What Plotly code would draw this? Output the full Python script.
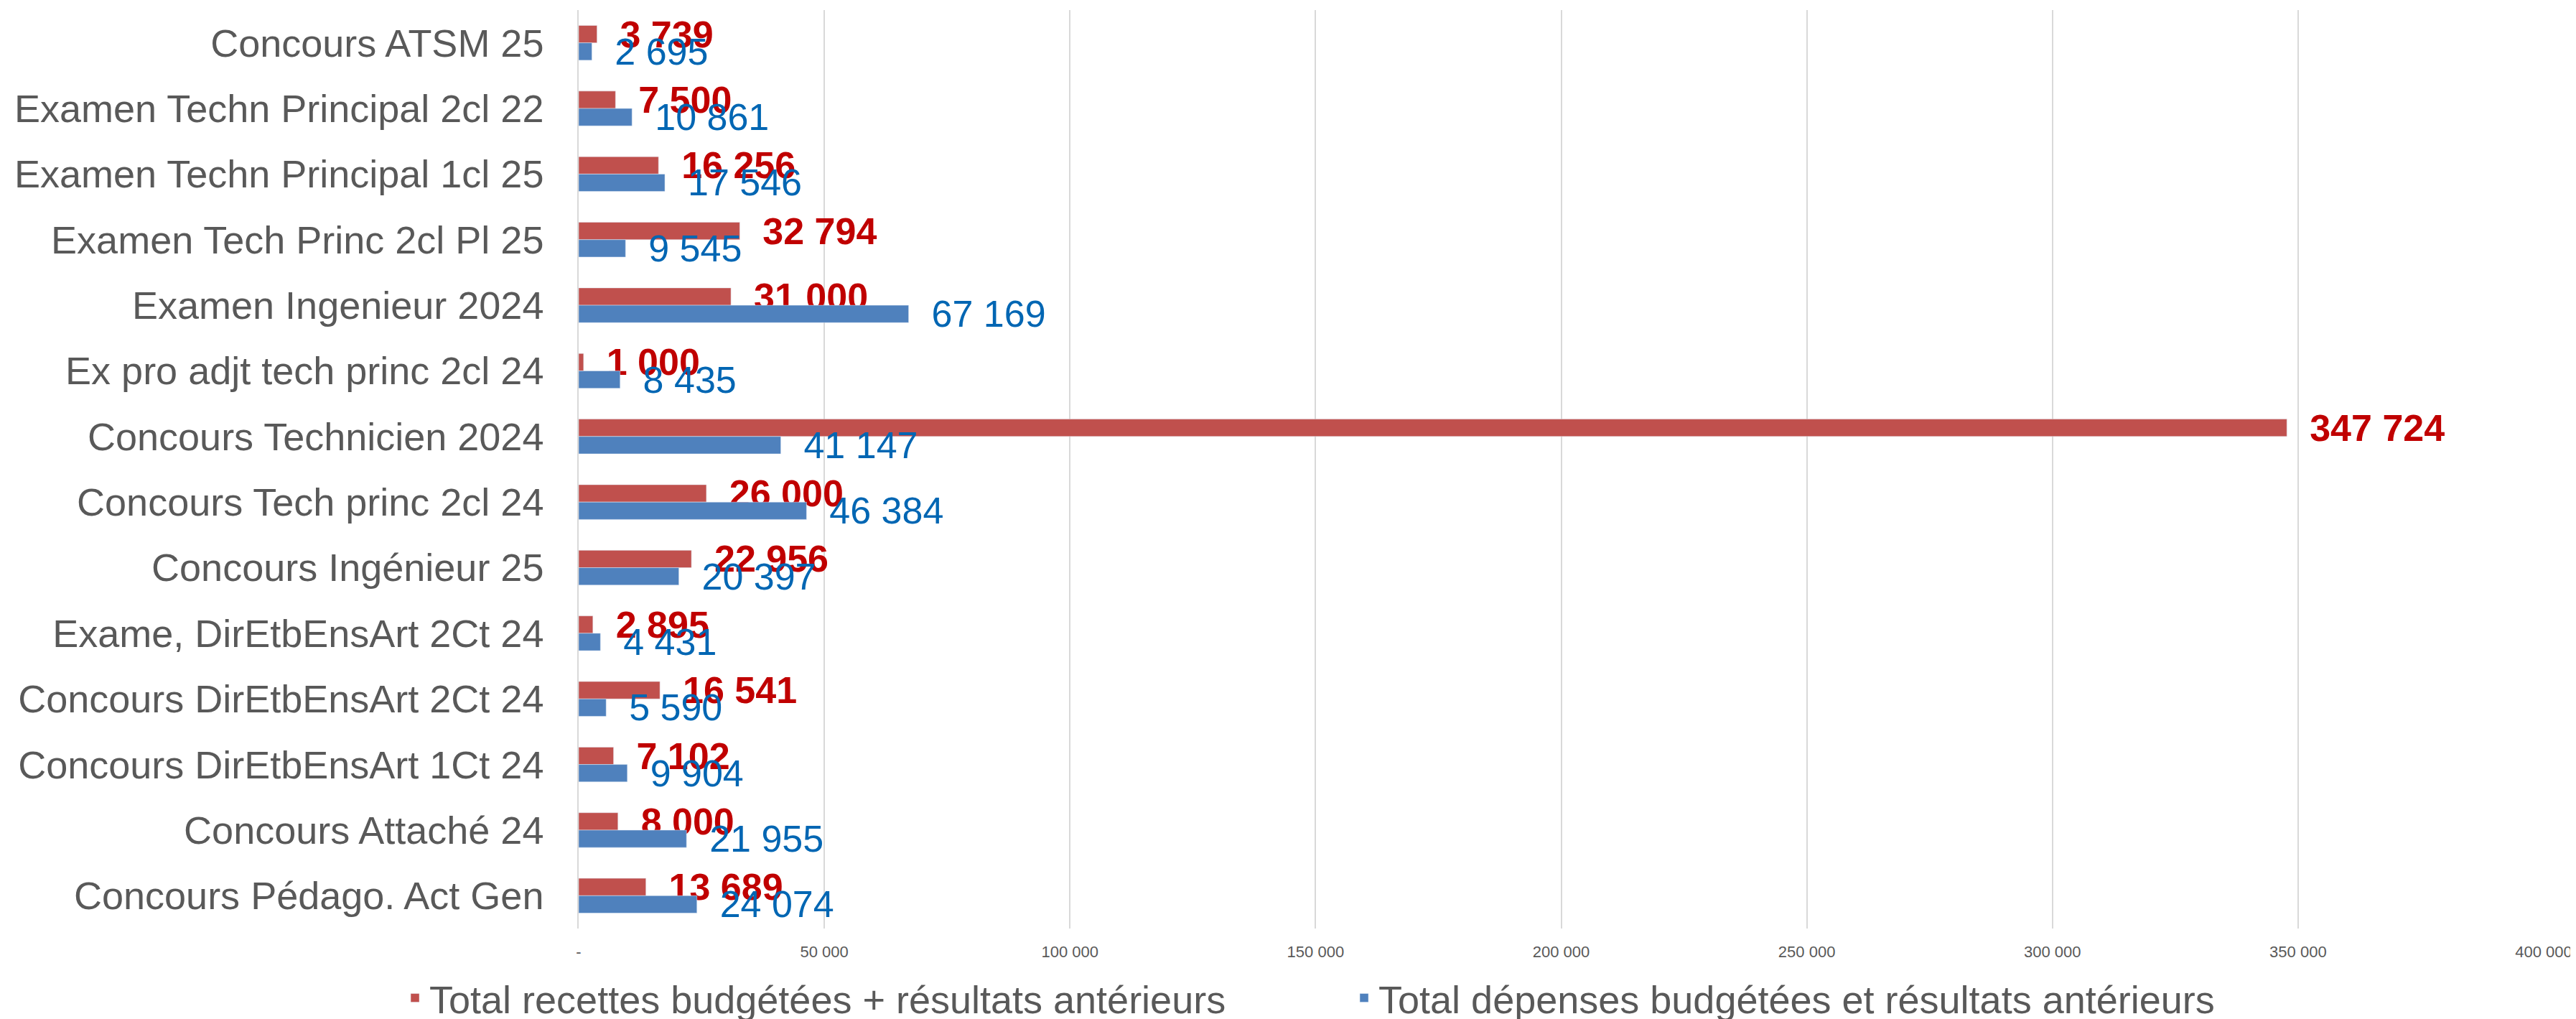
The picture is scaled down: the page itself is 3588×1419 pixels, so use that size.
"""Recettes vs dépenses par concours / examen"""

import plotly.graph_objects as go

categories = [
    "Concours ATSM 25",
    "Examen Techn Principal 2cl 22",
    "Examen Techn Principal 1cl 25",
    "Examen Tech Princ 2cl Pl 25",
    "Examen Ingenieur 2024",
    "Ex pro adjt tech princ 2cl 24",
    "Concours Technicien 2024",
    "Concours Tech princ 2cl 24",
    "Concours Ingénieur 25",
    "Exame, DirEtbEnsArt 2Ct 24",
    "Concours DirEtbEnsArt 2Ct 24",
    "Concours DirEtbEnsArt 1Ct 24",
    "Concours Attaché 24",
    "Concours Pédago. Act Gen",
]

recettes = [3739, 7500, 16256, 32794, 31000, 1000, 347724,
            26000, 22956, 2895, 16541, 7102, 8000, 13689]
depenses = [2695, 10861, 17546, 9545, 67169, 8435, 41147,
            46384, 20397, 4431, 5590, 9904, 21955, 24074]

tick_vals = [0, 50000, 100000, 150000, 200000, 250000, 300000, 350000, 400000]
tick_text = ["-", "50 000", "100 000", "150 000", "200 000",
             "250 000", "300 000", "350 000", "400 000"]

FONT = "Liberation Sans, Arial, sans-serif"
GREY = "#595959"

fig = go.Figure()
fig.add_trace(go.Bar(
    y=categories,
    x=recettes,
    orientation="h",
    name="Total recettes budgétées + résultats antérieurs",
    marker=dict(color="#C0504D"),
    texttemplate="  %{x:,.0f}",
    textposition="outside",
    textangle=0,
    constraintext="none",
    cliponaxis=False,
    textfont=dict(family=FONT, size=52, color="#C00000", weight="bold"),
))
fig.add_trace(go.Bar(
    y=categories,
    x=depenses,
    orientation="h",
    name="Total dépenses budgétées et résultats antérieurs",
    marker=dict(color="#4F81BD"),
    texttemplate="  %{x:,.0f}",
    textposition="outside",
    textangle=0,
    constraintext="none",
    cliponaxis=False,
    textfont=dict(family=FONT, size=52, color="#0066B3"),
))

# la page décale le graphique de 8 px (marge du body)
fig.update_layout(
    width=3588,
    height=1419,
    margin=dict(l=798, r=53, t=6, b=134, autoexpand=False),
    plot_bgcolor="white",
    paper_bgcolor="white",
    font=dict(family=FONT, color=GREY),
    separators=", ",
    barmode="group",
    bargap=0.47,
    bargroupgap=0,
    showlegend=True,
    legend=dict(
        orientation="h",
        x=-0.0906,
        xanchor="left",
        y=-0.0758,
        yanchor="middle",
        font=dict(size=54, color=GREY),
        entrywidth=1277,
        traceorder="normal",
    ),
    xaxis=dict(
        range=[0, 400000],
        tickvals=tick_vals,
        ticktext=tick_text,
        showgrid=True,
        gridcolor="#D9D9D9",
        gridwidth=1.5,
        zeroline=False,
        ticks="",
        ticklabelstandoff=17,
        tickfont=dict(size=22, color=GREY),
    ),
    yaxis=dict(
        type="category",
        autorange="reversed",
        showline=True,
        linecolor="#D9D9D9",
        linewidth=1.5,
        ticks="",
        ticklabelstandoff=36,
        tickfont=dict(size=54, color=GREY),
    ),
)

fig.write_html("out.html")
